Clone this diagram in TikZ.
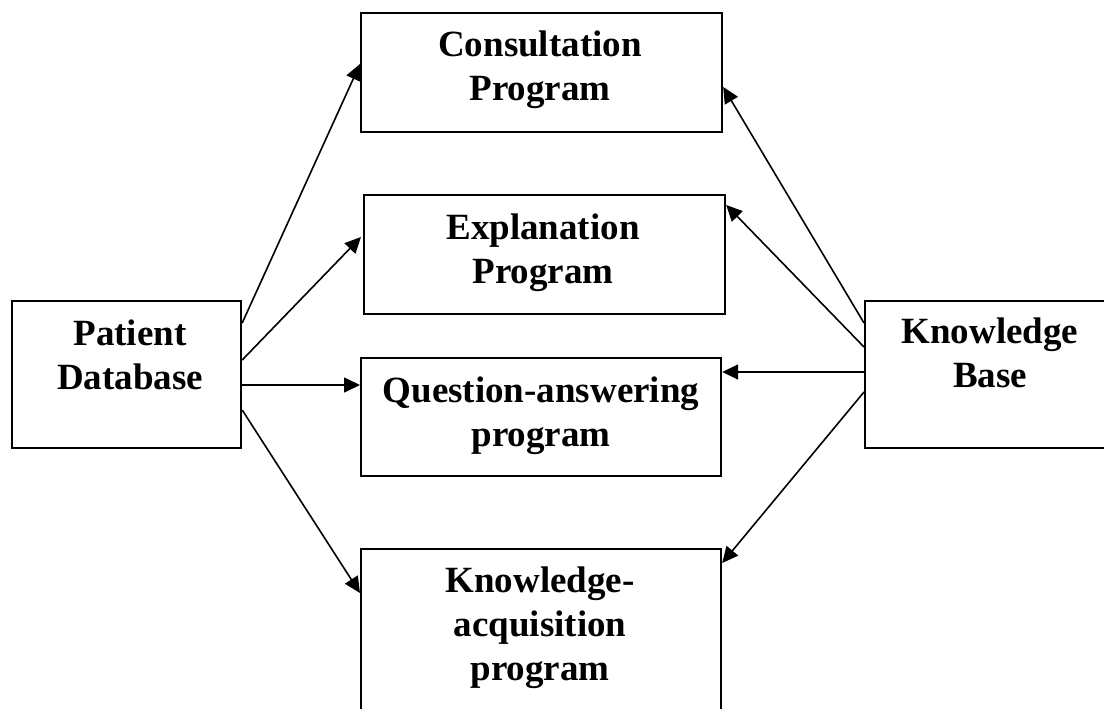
\documentclass[tikz,border=0pt]{standalone}
\usepackage{fontspec}
\setmainfont{Liberation Serif}
\usetikzlibrary{arrows.meta,calc}
\newcommand\boxlines[1]{\begin{tabular}[t]{@{}c@{}}#1\end{tabular}}
\begin{document}
\begin{tikzpicture}[x=1pt,y=-1pt,
  box/.style={draw, line width=2.2pt, rectangle, inner sep=0pt, anchor=north west},
  lbl/.style={font=\fontsize{37}{44}\selectfont\bfseries, anchor=base, inner sep=0pt},
  arr/.style={line width=1.6pt, -{Triangle[length=16pt,width=15pt]}}]
\clip (0,0) rectangle (1104,709);
\fill[white] (0,0) rectangle (1104,709);
% boxes
\node[box, minimum width=229pt, minimum height=147pt] (pdb) at (11,300) {};
\node[box, minimum width=361pt, minimum height=119pt] (cons) at (360,12) {};
\node[box, minimum width=361pt, minimum height=119pt] (expl) at (363,194) {};
\node[box, minimum width=360pt, minimum height=118pt] (qa) at (360,357) {};
\node[box, minimum width=360pt, minimum height=200pt] (ka) at (360,548) {};
\node[box, minimum width=260pt, minimum height=147pt] (kb) at (864,300) {};
% labels
\node[lbl] (pdbt) at (130,345) {\boxlines{Patient\\Database}};
\node[lbl] (const) at (540,57) {\boxlines{Consultation\\Program}};
\node[lbl] (explt) at (543,239) {\boxlines{Explanation\\Program}};
\node[lbl] (qat) at (541,402) {\boxlines{Question-answering\\program}};
\node[lbl] (kat) at (540,592) {\boxlines{Knowledge-\\acquisition\\program}};
\node[lbl] (kbt) at (990,343) {\boxlines{Knowledge\\Base}};
% connectors from Patient Database
\draw[arr] ($(pdb.north east)+(0,23)$) -- ($(cons.north west)+(0,52)$);
\draw[arr] ($(pdb.north east)+(0,60)$) -- ($(expl.north west)+(-2,43)$);
\draw[arr] ($(pdb.north east)+(0,85)$) -- ($(qa.north west)+(0,28)$);
\draw[arr] ($(pdb.north east)+(0,110)$) -- ($(ka.north west)+(0,45)$);
% connectors from Knowledge Base
\draw[arr] ($(kb.north west)+(0,23)$) -- ($(cons.north east)+(0,75)$);
\draw[arr] ($(kb.north west)+(0,47)$) -- ($(expl.north east)+(0,11)$);
\draw[arr] ($(kb.north west)+(0,72)$) -- ($(qa.north east)+(0,15)$);
\draw[arr] ($(kb.north west)+(0,92)$) -- ($(ka.north east)+(0,15)$);
\end{tikzpicture}
\end{document}
